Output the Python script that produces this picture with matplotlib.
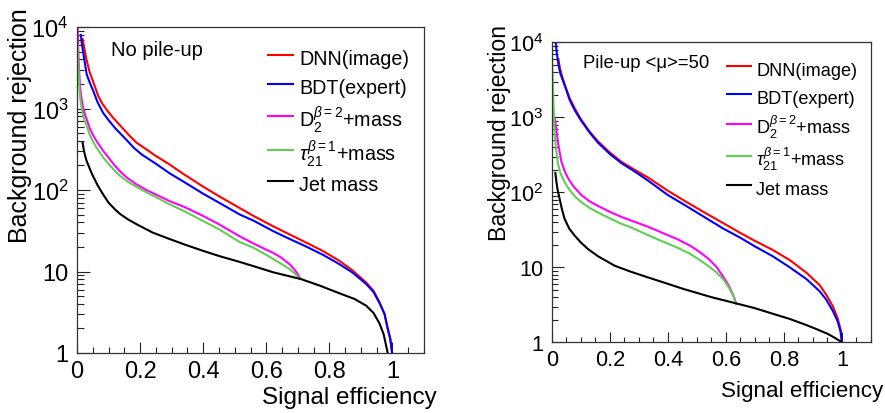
import matplotlib
matplotlib.use("Agg")
import matplotlib.pyplot as plt
from matplotlib.ticker import FixedLocator, FixedFormatter, MultipleLocator, LogLocator, NullFormatter

plt.rcParams['font.family'] = ['Liberation Sans', 'DejaVu Sans']
plt.rcParams['mathtext.fontset'] = 'custom'
plt.rcParams['mathtext.rm'] = 'Liberation Sans'
plt.rcParams['mathtext.it'] = 'Liberation Sans:italic'
plt.rcParams['mathtext.bf'] = 'Liberation Sans:bold'

# ---------------- data: No pile-up ----------------
np_dnn_eff = [0.018, 0.022, 0.030, 0.040, 0.050, 0.067, 0.080, 0.100, 0.115, 0.140, 0.165, 0.189, 0.220, 0.250,
              0.294, 0.340, 0.400, 0.450, 0.516, 0.560, 0.621, 0.670, 0.727, 0.780, 0.832, 0.875, 0.917, 0.940,
              0.959, 0.975, 0.985, 0.993, 0.999]
np_dnn_rej = [7100, 5800, 4000, 2800, 2200, 1440, 1150, 900, 767, 600, 470, 380, 315, 262,
              205, 155, 110, 84, 60, 48, 36, 29, 22.6, 17.8, 13.5, 10.2, 7.3, 5.8,
              4.2, 3.0, 1.97, 1.5, 1.0]
np_bdt_eff = [0.012, 0.016, 0.020, 0.025, 0.031, 0.040, 0.050, 0.065, 0.083, 0.100, 0.120, 0.136, 0.160, 0.180,
              0.205, 0.250, 0.294, 0.340, 0.400, 0.450, 0.516, 0.560, 0.621, 0.670, 0.727, 0.780, 0.832, 0.875,
              0.917, 0.940, 0.959, 0.975, 0.985, 0.993, 0.999]
np_bdt_rej = [8000, 6000, 4800, 3600, 2600, 2100, 1700, 1200, 880, 720, 580, 500, 400, 330,
              273, 210, 160, 125, 90, 70, 50, 42, 31.4, 25.5, 20.2, 16, 12.3, 9.6,
              7.0, 5.6, 4.1, 3.0, 2.0, 1.5, 1.0]
np_d2_eff = [0.002, 0.0035, 0.005, 0.007, 0.0095, 0.014, 0.020, 0.025, 0.031, 0.040, 0.050, 0.060, 0.073, 0.085,
             0.100, 0.115, 0.136, 0.160, 0.189, 0.220, 0.250, 0.294, 0.340, 0.400, 0.450, 0.516, 0.560, 0.600,
             0.621, 0.645, 0.674, 0.690, 0.700, 0.706]
np_d2_rej = [9500, 6000, 4000, 2800, 1900, 1350, 1000, 850, 730, 580, 480, 410, 345, 295,
             250, 210, 170, 140, 117, 100, 88, 73, 62, 48, 38, 27, 22, 18.5,
             17, 15, 12.3, 10.5, 9.3, 8.4]
np_tau_eff = [0.002, 0.0035, 0.005, 0.007, 0.0095, 0.014, 0.020, 0.025, 0.031, 0.040, 0.050, 0.060, 0.073, 0.085,
              0.100, 0.115, 0.136, 0.160, 0.200, 0.250, 0.294, 0.340, 0.400, 0.450, 0.516, 0.560, 0.600, 0.621,
              0.645, 0.674, 0.690, 0.706]
np_tau_rej = [6000, 4000, 3000, 2000, 1420, 1050, 800, 700, 610, 480, 400, 340, 286, 245,
              210, 180, 150, 127, 103, 82, 66.6, 55, 41.6, 33, 23, 19.5, 16, 14.3,
              12.6, 10.7, 9.5, 8.2]
np_mass_eff = [0.018, 0.021, 0.025, 0.030, 0.041, 0.050, 0.057, 0.065, 0.073, 0.083, 0.100, 0.120, 0.136, 0.160,
               0.189, 0.240, 0.294, 0.340, 0.400, 0.450, 0.516, 0.570, 0.621, 0.670, 0.711, 0.770, 0.832, 0.880,
               0.917, 0.940, 0.959, 0.972, 0.985]
np_mass_rej = [380, 320, 270, 230, 180, 150, 133, 115, 102, 88, 70, 58, 51, 44,
               38, 30, 25, 21.5, 17.9, 15.5, 13.1, 11.3, 9.8, 8.8, 8.05, 6.7, 5.4, 4.6,
               3.8, 3.1, 2.3, 1.7, 1.0]

# ---------------- data: Pile-up <mu>=50 ----------------
pu_dnn_eff = [0.023, 0.028, 0.035, 0.045, 0.062, 0.080, 0.100, 0.130, 0.159, 0.200, 0.240, 0.290, 0.331, 0.400,
              0.460, 0.533, 0.590, 0.648, 0.700, 0.762, 0.820, 0.877, 0.923, 0.946, 0.969, 0.985, 0.995, 1.0]
pu_dnn_rej = [6000, 4600, 3600, 2700, 1800, 1300, 950, 650, 480, 340, 255, 195, 158, 105,
              76, 52, 39, 29, 22.5, 17, 12.5, 8.5, 5.8, 4.3, 3.0, 2.1, 1.5, 1.0]
pu_bdt_eff = [0.0137, 0.018, 0.023, 0.030, 0.046, 0.062, 0.080, 0.100, 0.130, 0.159, 0.200, 0.240, 0.290, 0.331,
              0.400, 0.460, 0.533, 0.590, 0.648, 0.700, 0.762, 0.820, 0.877, 0.923, 0.946, 0.969, 0.985, 0.995, 1.0]
pu_bdt_rej = [10000, 7000, 5130, 3800, 2600, 1700, 1230, 920, 630, 460, 325, 245, 185, 144,
              92, 67, 45, 33, 25, 19, 14, 10, 7, 4.8, 3.7, 2.6, 1.9, 1.4, 1.0]
pu_d2_eff = [0.011, 0.016, 0.022, 0.033, 0.045, 0.056, 0.075, 0.102, 0.130, 0.159, 0.200, 0.240, 0.274, 0.330,
             0.389, 0.430, 0.476, 0.510, 0.540, 0.567, 0.590, 0.610, 0.625, 0.636]
pu_d2_rej = [950, 700, 450, 260, 190, 155, 120, 92, 76, 66, 55, 47, 42, 35,
             28, 24, 19.5, 16, 13, 10.2, 7.6, 5.7, 4.3, 3.24]
pu_tau_eff = [0.0, 0.002, 0.004, 0.006, 0.010, 0.015, 0.0217, 0.030, 0.0447, 0.060, 0.080, 0.102, 0.130, 0.159,
              0.200, 0.240, 0.274, 0.330, 0.389, 0.430, 0.476, 0.510, 0.540, 0.567, 0.590, 0.610, 0.625, 0.636]
pu_tau_rej = [10000, 5000, 2500, 1500, 630, 380, 240, 180, 136, 110, 88, 74, 62, 54,
              45, 38, 34, 27, 21.5, 18.5, 15.2, 12.5, 10.4, 8.6, 7.0, 5.4, 4.2, 3.24]
pu_mass_eff = [0.0125, 0.016, 0.020, 0.0275, 0.035, 0.0447, 0.060, 0.079, 0.100, 0.125, 0.160, 0.217, 0.270, 0.331,
               0.390, 0.450, 0.550, 0.636, 0.700, 0.762, 0.820, 0.877, 0.912, 0.950, 0.975, 1.0]
pu_mass_rej = [181, 140, 110, 81, 60, 44, 33, 26.5, 21.5, 17.5, 14, 10.5, 8.8, 7.35,
               6.2, 5.2, 4.0, 3.3, 2.85, 2.4, 2.05, 1.7, 1.5, 1.3, 1.15, 1.0]

labels = ['DNN(image)', 'BDT(expert)', r'$\mathrm{D}_{2}^{\beta=2}$+mass',
          r'$\tau_{21}^{\beta=1}$+mass', 'Jet mass']
colors = ['#ff0000', '#0000ff', '#ff00ff', '#5fcf4f', '#000000']
xticks = [0, 0.2, 0.4, 0.6, 0.8, 1.0]
xtick_labels = ['0', '0.2', '0.4', '0.6', '0.8', '1']
yticks = [1, 10, 100, 1000, 10000]
ytick_labels = ['1', '10', r'$10^{2}$', r'$10^{3}$', r'$10^{4}$']

W, H = 885, 414
fig = plt.figure(figsize=(W / 100, H / 100), dpi=100)
ax1 = fig.add_axes([77 / W, 1 - 354 / H, 347 / W, 326 / H])
ax2 = fig.add_axes([551.7 / W, 1 - 343.3 / H, 319.3 / W, 300 / H])

panels = [
    # axes, series, title, scale, ylabel x, xlabel y, legend top, legend spacing
    (ax1, [(np_dnn_eff, np_dnn_rej), (np_bdt_eff, np_bdt_rej), (np_d2_eff, np_d2_rej),
           (np_tau_eff, np_tau_rej), (np_mass_eff, np_mass_rej)], 'No pile-up', 1.0,
     -0.129, -0.1, 0.944, 0.18),
    (ax2, [(pu_dnn_eff, pu_dnn_rej), (pu_bdt_eff, pu_bdt_rej), (pu_d2_eff, pu_d2_rej),
           (pu_tau_eff, pu_tau_rej), (pu_mass_eff, pu_mass_rej)], 'Pile-up <μ>=50', 0.92,
     -0.128, -0.125, 0.950, 0.25),
]

for ax, series, title, s, ylx, xly, legy, lsp in panels:
    handles = []
    for (xe, yr), c, lab in zip(series, colors, labels):
        h, = ax.plot(xe, yr, color=c, lw=1.5, label=lab, solid_joinstyle='round')
        handles.append(h)
    ax.set_yscale('log')
    ax.set_xlim(0, 1.1)
    ax.set_ylim(1, 1e4)
    ax.xaxis.set_major_locator(FixedLocator(xticks))
    ax.xaxis.set_major_formatter(FixedFormatter(xtick_labels))
    ax.xaxis.set_minor_locator(MultipleLocator(0.05))
    ax.yaxis.set_major_locator(FixedLocator(yticks))
    ax.yaxis.set_major_formatter(FixedFormatter(ytick_labels))
    ax.yaxis.set_minor_locator(LogLocator(base=10, subs=[2, 3, 4, 5, 6, 7, 8, 9], numticks=20))
    ax.yaxis.set_minor_formatter(NullFormatter())
    ax.tick_params(axis='both', which='both', direction='in', top=False, right=False,
                   width=0.8, color='#222222')
    ax.tick_params(axis='x', which='major', length=8 * s, labelsize=17 * s, pad=5)
    ax.tick_params(axis='x', which='minor', length=4 * s)
    ax.tick_params(axis='y', which='major', length=9 * s, labelsize=17 * s, pad=6)
    ax.tick_params(axis='y', which='minor', length=5 * s)
    for sp in ax.spines.values():
        sp.set_linewidth(0.9)
        sp.set_color('#333333')
    ax.set_xlabel('Signal efficiency', fontsize=17.5 * s, loc='right')
    ax.xaxis.set_label_coords(1.037, xly)
    ax.set_ylabel('Background rejection', fontsize=18 * s, loc='top')
    ax.yaxis.set_label_coords(ylx, 1.06)
    ax.text(0.097, 0.932, title, transform=ax.transAxes, fontsize=14.5 * s, va='center', ha='left')
    ax.legend(handles=handles, loc='upper left', bbox_to_anchor=(0.55, legy),
              frameon=False, fontsize=14.2 * s, handlelength=1.3, handletextpad=0.3,
              handleheight=1.6, labelspacing=lsp, borderpad=0, borderaxespad=0)

fig.savefig('out.png', dpi=100)
